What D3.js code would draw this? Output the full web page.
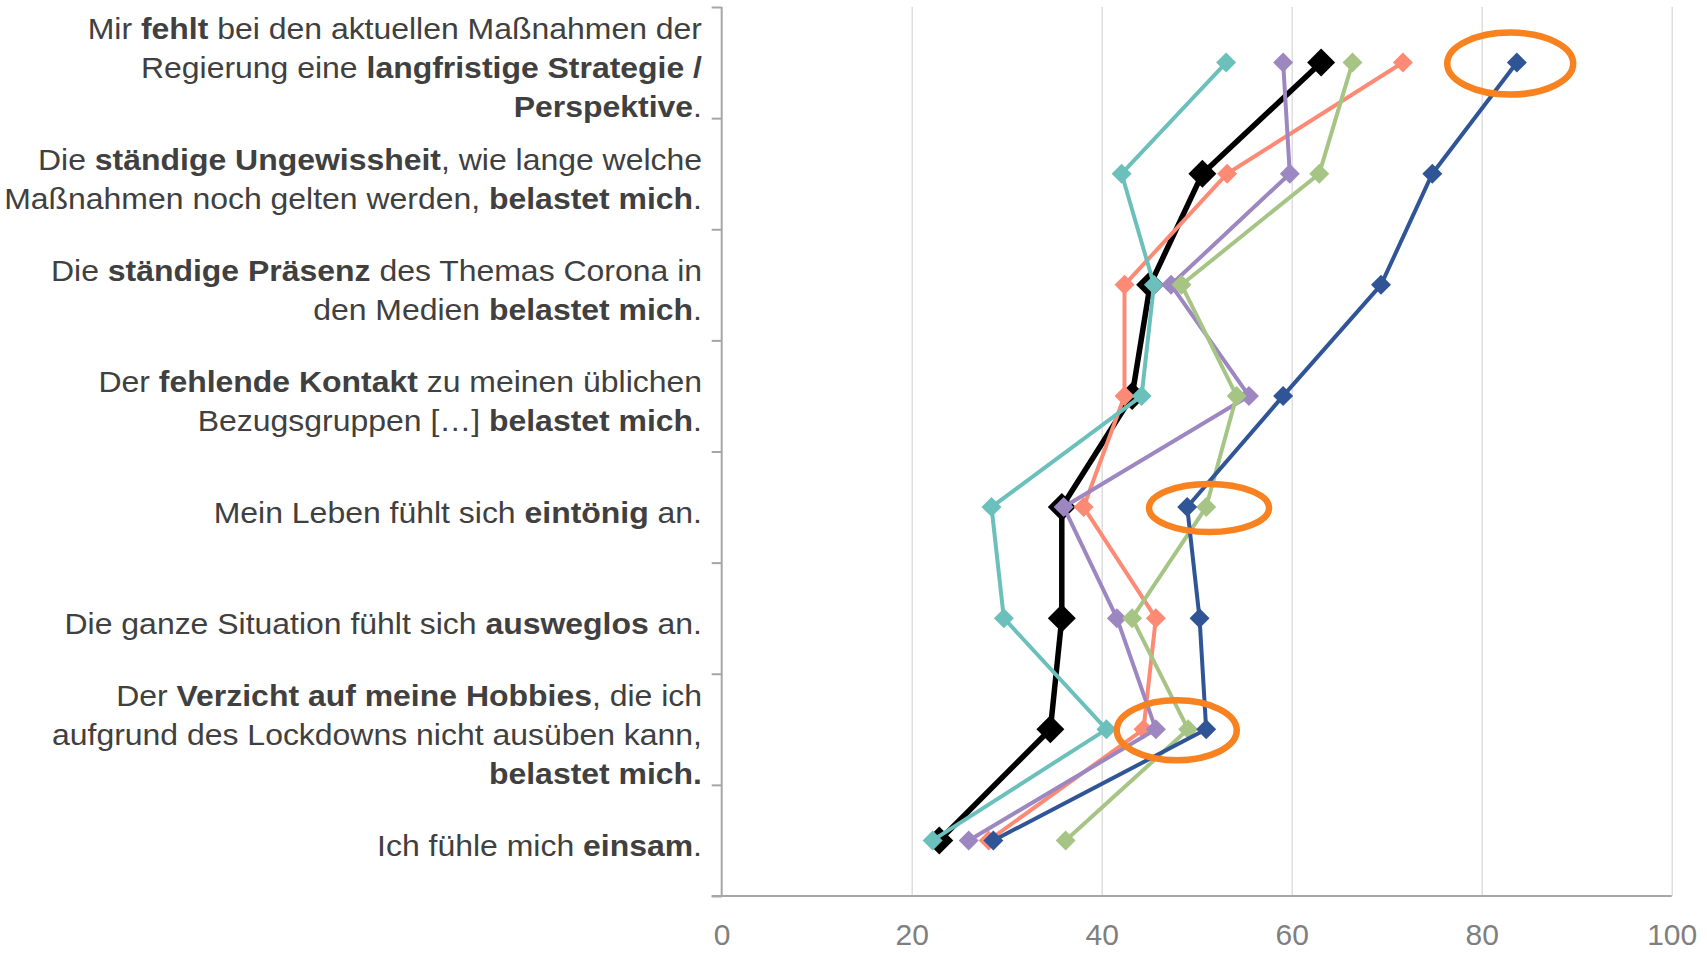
<!DOCTYPE html>
<html>
<head>
<meta charset="utf-8">
<script src="https://cdn.jsdelivr.net/npm/d3@7/dist/d3.min.js"></script>
<style>
  html, body { margin: 0; padding: 0; background: #ffffff; }
  svg { display: block; }
</style>
</head>
<body>
<svg id="chart" width="1707" height="953"></svg>
<script>
// ---------------- DATA ----------------
// Category labels, top to bottom; each line is a list of [text, bold] segments
const categoryLabels = [
  [[["Mir ", false], ["fehlt", true], [" bei den aktuellen Maßnahmen der", false]],
   [["Regierung eine ", false], ["langfristige Strategie /", true]],
   [["Perspektive", true], [".", false]]],
  [[["Die ", false], ["ständige Ungewissheit", true], [", wie lange welche", false]],
   [["Maßnahmen noch gelten werden, ", false], ["belastet mich", true], [".", false]]],
  [[["Die ", false], ["ständige Präsenz", true], [" des Themas Corona in", false]],
   [["den Medien ", false], ["belastet mich", true], [".", false]]],
  [[["Der ", false], ["fehlende Kontakt", true], [" zu meinen üblichen", false]],
   [["Bezugsgruppen […] ", false], ["belastet mich", true], [".", false]]],
  [[["Mein Leben fühlt sich ", false], ["eintönig", true], [" an.", false]]],
  [[["Die ganze Situation fühlt sich ", false], ["ausweglos", true], [" an.", false]]],
  [[["Der ", false], ["Verzicht auf meine Hobbies", true], [", die ich", false]],
   [["aufgrund des Lockdowns nicht ausüben kann,", false]],
   [["belastet mich.", true]]],
  [[["Ich fühle mich ", false], ["einsam", true], [".", false]]]
];

// Series values (percent), one value per category, top to bottom
const seriesBlack  = [63.1, 50.6, 45.1, 43.2, 35.8, 35.8, 34.6, 22.9];
const seriesSalmon = [71.7, 53.2, 42.4, 42.4, 38.1, 45.7, 44.4, 28.1];
const seriesTeal   = [53.1, 42.1, 45.5, 44.2, 28.4, 29.7, 40.5, 22.2];
const seriesPurple = [59.1, 59.8, 47.3, 55.5, 36.0, 41.6, 45.7, 26.0];
const seriesGreen  = [66.4, 62.9, 48.4, 54.2, 51.0, 43.2, 49.1, 36.2];
const seriesBlue   = [83.7, 74.8, 69.4, 59.1, 49.0, 50.3, 51.0, 28.6];

// X tick labels
const xTicks = [0, 20, 40, 60, 80, 100];

// Highlighted points (value, category index)
const highlightValues = [83.0, 51.3, 47.9];
const highlightCats   = [0, 4, 6];

// ---------------- STYLE ----------------
const W = 1707, H = 953;
const plot = { left: 721.7, right: 1671.7, top: 7, bottom: 896 };
const seriesStyle = [
  { values: seriesBlack,  color: "#000000", width: 5.5, marker: 14 },
  { values: seriesSalmon, color: "#fd8a74", width: 4,   marker: 10 },
  { values: seriesTeal,   color: "#6bc0bc", width: 4,   marker: 10 },
  { values: seriesPurple, color: "#9d87c1", width: 4,   marker: 10 },
  { values: seriesGreen,  color: "#a6c585", width: 4,   marker: 10 },
  { values: seriesBlue,   color: "#2f5597", width: 4,   marker: 10 }
];
const highlightRadii = [[63, 31], [60, 24], [60, 30]];

// ---------------- CHART ----------------
const svg = d3.select("#chart");
const catIdx = d3.range(categoryLabels.length);

const x = d3.scaleLinear().domain([0, 100]).range([plot.left, plot.right]);
const y = d3.scaleBand().domain(catIdx).range([plot.top, plot.bottom]).padding(0);
const yEdge = d3.scaleLinear().domain([0, categoryLabels.length]).range([plot.top, plot.bottom]);
const yc = i => y(i) + y.bandwidth() / 2;

// gridlines
svg.append("g")
  .attr("transform", `translate(0,${plot.bottom})`)
  .call(d3.axisBottom(x).tickValues(xTicks.filter(t => t > 0)).tickSize(-(plot.bottom - plot.top)).tickFormat(""))
  .call(g => g.select(".domain").remove())
  .call(g => g.selectAll("line").attr("stroke", "#d9d9d9").attr("stroke-width", 1.3));

// x axis labels + line
const xAxisG = svg.append("g")
  .attr("transform", `translate(0,${plot.bottom})`)
  .call(d3.axisBottom(x).tickValues(xTicks).tickSize(0).tickFormat(d3.format("d")));
xAxisG.select(".domain").remove();
xAxisG.selectAll("text")
  .attr("y", 49).attr("dy", null)
  .attr("fill", "#7f7f7f")
  .style("font-family", "'Liberation Sans', Arial, sans-serif")
  .style("font-size", "30px");

// y axis with boundary ticks
const yAxisG = svg.append("g")
  .attr("transform", `translate(${plot.left},0)`)
  .call(d3.axisLeft(yEdge).tickValues(d3.range(categoryLabels.length + 1)).tickSize(10).tickFormat(""));
yAxisG.select(".domain").attr("stroke", "#a6a6a6").attr("stroke-width", 2).attr("d", `M0,${plot.top}V${plot.bottom}`);
yAxisG.selectAll("line").attr("stroke", "#a6a6a6").attr("stroke-width", 2);

svg.append("line")
  .attr("x1", plot.left - 10).attr("x2", plot.right)
  .attr("y1", plot.bottom).attr("y2", plot.bottom)
  .attr("stroke", "#a6a6a6").attr("stroke-width", 2);

// category labels
const labelRight = 702;
const lineH = 39;
const labelG = svg.append("g")
  .attr("transform", `translate(${labelRight},0) scale(1.065,1)`);
categoryLabels.forEach((lines, i) => {
  const n = lines.length;
  lines.forEach((segs, j) => {
    const t = labelG.append("text")
      .attr("x", 0)
      .attr("y", yc(i) + 15.5 + (j - (n - 1) / 2) * lineH)
      .attr("text-anchor", "end")
      .attr("fill", "#404040")
      .style("font-family", "'Liberation Sans', Arial, sans-serif")
      .style("font-size", "30px");
    segs.forEach(([txt, bold]) => {
      t.append("tspan").text(txt).attr("font-weight", bold ? "bold" : "normal");
    });
  });
});

// series lines and markers
const line = d3.line().x(d => x(d.v)).y(d => yc(d.i));
seriesStyle.forEach(s => {
  const pts = s.values.map((v, i) => ({ v, i }));
  const g = svg.append("g");
  g.append("path")
    .datum(pts)
    .attr("d", line)
    .attr("fill", "none")
    .attr("stroke", s.color)
    .attr("stroke-width", s.width)
    .attr("stroke-linejoin", "round");
  const side = s.marker * Math.SQRT2;
  g.selectAll("path.m")
    .data(pts)
    .join("path")
    .attr("class", "m")
    .attr("d", d3.symbol(d3.symbolSquare, side * side))
    .attr("transform", d => `translate(${x(d.v)},${yc(d.i)}) rotate(45)`)
    .attr("fill", s.color);
});

// highlight ellipses
highlightValues.forEach((v, k) => {
  svg.append("ellipse")
    .attr("cx", x(v))
    .attr("cy", yc(highlightCats[k]) + 1)
    .attr("rx", highlightRadii[k][0])
    .attr("ry", highlightRadii[k][1])
    .attr("fill", "none")
    .attr("stroke", "#f8821f")
    .attr("stroke-width", 6.5);
});
</script>
</body>
</html>
